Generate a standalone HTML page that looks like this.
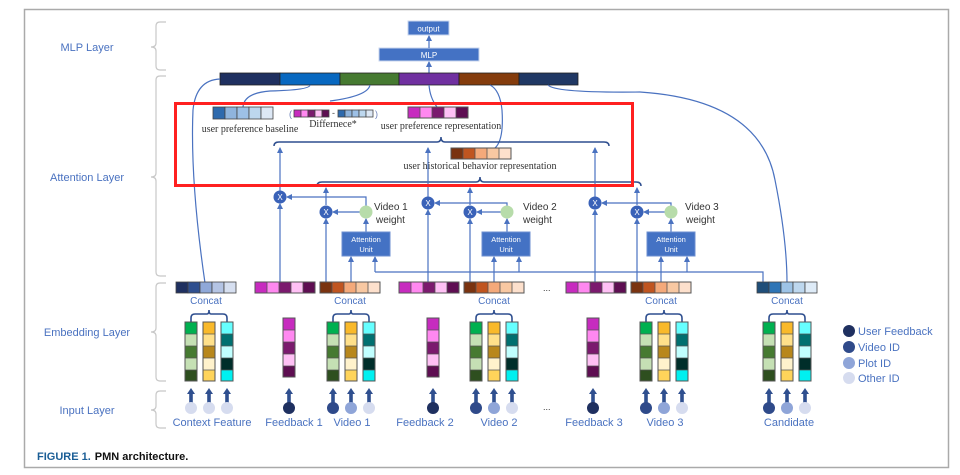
<!DOCTYPE html>
<html><head><meta charset="utf-8"><style>
html,body{margin:0;padding:0;background:#fff;}
svg{display:block;}
.lab{font-family:"Liberation Sans",sans-serif;fill:#4a72c0;}
.ser{font-family:"Liberation Serif",serif;fill:#333;font-size:10px;}
.ln{stroke:#4a72c0;stroke-width:1.2;fill:none;}
.xt{font-family:"Liberation Sans",sans-serif;font-size:8px;fill:#fff;}
</style></head><body>
<svg width="960" height="475" viewBox="0 0 960 475" xmlns="http://www.w3.org/2000/svg">
<defs>
<marker id="a" markerWidth="6" markerHeight="6" refX="5" refY="3" orient="auto" markerUnits="userSpaceOnUse"><path d="M0,0 L6,3 L0,6 z" fill="#4a72c0"/></marker>
<g id="grn"><rect x="0" y="0" width="12" height="12" fill="#00b050"/><rect x="0" y="12" width="12" height="12" fill="#c5e0b4"/><rect x="0" y="24" width="12" height="12" fill="#467a31"/><rect x="0" y="36" width="12" height="12" fill="#c5e0b4"/><rect x="0" y="48" width="12" height="11" fill="#2e4f1f"/><rect x="0" y="0" width="12" height="59" fill="none" stroke="#555" stroke-width="1"/><path d="M0,12H12M0,24H12M0,36H12M0,48H12" stroke="#555" stroke-width=".8"/></g>
<g id="org"><rect x="0" y="0" width="12" height="12" fill="#f9b92a"/><rect x="0" y="12" width="12" height="12" fill="#ffe08a"/><rect x="0" y="24" width="12" height="12" fill="#b8871c"/><rect x="0" y="36" width="12" height="12" fill="#fff2cc"/><rect x="0" y="48" width="12" height="11" fill="#ffd45a"/><rect x="0" y="0" width="12" height="59" fill="none" stroke="#555" stroke-width="1"/><path d="M0,12H12M0,24H12M0,36H12M0,48H12" stroke="#555" stroke-width=".8"/></g>
<g id="cyn"><rect x="0" y="0" width="12" height="12" fill="#66ffff"/><rect x="0" y="12" width="12" height="12" fill="#007070"/><rect x="0" y="24" width="12" height="12" fill="#c0ffff"/><rect x="0" y="36" width="12" height="12" fill="#002e2a"/><rect x="0" y="48" width="12" height="11" fill="#00f0f0"/><rect x="0" y="0" width="12" height="59" fill="none" stroke="#555" stroke-width="1"/><path d="M0,12H12M0,24H12M0,36H12M0,48H12" stroke="#555" stroke-width=".8"/></g>
<g id="mag"><rect x="0" y="0" width="12" height="12" fill="#c72bbf"/><rect x="0" y="12" width="12" height="12" fill="#ff88f0"/><rect x="0" y="24" width="12" height="12" fill="#7b1a6e"/><rect x="0" y="36" width="12" height="12" fill="#ffc0f5"/><rect x="0" y="48" width="12" height="11" fill="#5e0e52"/><rect x="0" y="0" width="12" height="59" fill="none" stroke="#555" stroke-width="1"/><path d="M0,12H12M0,24H12M0,36H12M0,48H12" stroke="#555" stroke-width=".8"/></g>
<g id="hmag"><rect x="0" y="0" width="12" height="11" fill="#c72bbf"/><rect x="12" y="0" width="12" height="11" fill="#ff88f0"/><rect x="24" y="0" width="12" height="11" fill="#7b1a6e"/><rect x="36" y="0" width="12" height="11" fill="#ffc0f5"/><rect x="48" y="0" width="12" height="11" fill="#5e0e52"/><path d="M12,0V11M24,0V11M36,0V11M48,0V11" stroke="#555" stroke-width=".8"/><rect width="60" height="11" fill="none" stroke="#555"/></g>
<g id="hbr"><rect x="0" y="0" width="12" height="11" fill="#7a3310"/><rect x="12" y="0" width="12" height="11" fill="#c05520"/><rect x="24" y="0" width="12" height="11" fill="#f4a97a"/><rect x="36" y="0" width="12" height="11" fill="#f8c8a2"/><rect x="48" y="0" width="12" height="11" fill="#fde0cc"/><path d="M12,0V11M24,0V11M36,0V11M48,0V11" stroke="#555" stroke-width=".8"/><rect width="60" height="11" fill="none" stroke="#555"/></g>
<g id="tri"><use href="#grn" x="0" y="0"/><use href="#org" x="18" y="0"/><use href="#cyn" x="36" y="0"/></g>
<g id="tarr"><rect x="-1.8" y="5" width="3.6" height="10" fill="#2f4f8f"/><path d="M-4,6 L0,0 L4,6 z" fill="#2f4f8f"/></g>
<g id="sbr"><path d="M6,10 V6 Q6,2 10,2 H22 Q24,2 24,-2 Q24,2 26,2 H38 Q42,2 42,6 V10" fill="none" stroke="#2f4f8f" stroke-width="1.6"/></g>
<g id="au"><rect x="0" y="0" width="48" height="24" fill="#4472c4" stroke="#6d8fd0"/><text x="24" y="10" font-family="Liberation Sans,sans-serif" font-size="7.5" fill="#fff" text-anchor="middle">Attention</text><text x="24" y="20" font-family="Liberation Sans,sans-serif" font-size="7.5" fill="#fff" text-anchor="middle">Unit</text></g>
</defs>

<rect x="24.5" y="9.5" width="924" height="458" fill="#fff" stroke="#aaa" stroke-width="1.5"/>

<text class="lab" x="87" y="51" font-size="11" text-anchor="middle">MLP Layer</text>
<text class="lab" x="87" y="181" font-size="11" text-anchor="middle">Attention Layer</text>
<text class="lab" x="87" y="336" font-size="11" text-anchor="middle">Embedding Layer</text>
<text class="lab" x="87" y="414" font-size="11" text-anchor="middle">Input Layer</text>
<g fill="none" stroke="#c8c8c8" stroke-width="1.2">
<path d="M166,22 H160 Q156,22 156,26 V43 Q156,47 151,47 Q156,47 156,51 V66 Q156,70 160,70 H166"/>
<path d="M166,76 H160 Q156,76 156,80 V173 Q156,177 151,177 Q156,177 156,181 V272 Q156,276 160,276 H166"/>
<path d="M166,283 H160 Q156,283 156,287 V328 Q156,332 151,332 Q156,332 156,336 V377 Q156,381 160,381 H166"/>
<path d="M166,391 H160 Q156,391 156,395 V406 Q156,410 151,410 Q156,410 156,414 V424 Q156,428 160,428 H166"/>
</g>

<rect x="408" y="21" width="41" height="14" fill="#4472c4" stroke="#c9d6ee"/>
<text x="428.5" y="31.5" font-family="Liberation Sans,sans-serif" font-size="8" fill="#fff" text-anchor="middle">output</text>
<rect x="379" y="48" width="100" height="13" fill="#4472c4" stroke="#c9d6ee"/>
<text x="429" y="58" font-family="Liberation Sans,sans-serif" font-size="8" fill="#fff" text-anchor="middle">MLP</text>
<path class="ln" d="M429,48 V36" marker-end="url(#a)"/>
<path class="ln" d="M429,73 V62" marker-end="url(#a)"/>
<g stroke="#222" stroke-width=".8">
<rect x="220" y="73" width="60" height="12" fill="#1f3060"/>
<rect x="280" y="73" width="60" height="12" fill="#0868c0"/>
<rect x="340" y="73" width="59" height="12" fill="#467a31"/>
<rect x="399" y="73" width="60" height="12" fill="#7030a0"/>
<rect x="459" y="73" width="60" height="12" fill="#843c0c"/>
<rect x="519" y="73" width="59" height="12" fill="#203864"/>
</g>
<path class="ln" d="M220,79 Q196,80 193,110 Q190,180 205,283"/>
<path class="ln" d="M310,85 Q310,90 270,91 Q244,93 243,107"/>
<path class="ln" d="M370,85 Q368,96 330,101"/>
<path class="ln" d="M429,85 Q430,98 437,107"/>
<path class="ln" d="M490,85 Q500,90 502,110 Q504,140 495,148"/>
<path class="ln" d="M548,85 Q555,93 640,92 Q760,100 775,180 Q787,240 787,283"/>

<g stroke="#444" stroke-width=".8">
<rect x="213" y="107" width="12" height="12" fill="#2e6aad"/><rect x="225" y="107" width="12" height="12" fill="#8fb4dd"/><rect x="237" y="107" width="12" height="12" fill="#9dc0e6"/><rect x="249" y="107" width="12" height="12" fill="#bdd7ee"/><rect x="261" y="107" width="12" height="12" fill="#dde8f5"/>
<rect x="294" y="110" width="7" height="7" fill="#c72bbf"/><rect x="301" y="110" width="7" height="7" fill="#ff88f0"/><rect x="308" y="110" width="7" height="7" fill="#7b1a6e"/><rect x="315" y="110" width="7" height="7" fill="#ffc0f5"/><rect x="322" y="110" width="7" height="7" fill="#5e0e52"/>
<rect x="338" y="110" width="7" height="7" fill="#2e6aad"/><rect x="345" y="110" width="7" height="7" fill="#8fb4dd"/><rect x="352" y="110" width="7" height="7" fill="#9dc0e6"/><rect x="359" y="110" width="7" height="7" fill="#bdd7ee"/><rect x="366" y="110" width="7" height="7" fill="#dde8f5"/>
</g>
<use href="#hmag" x="408" y="107"/>
<use href="#hbr" x="451" y="148"/>
<text x="289" y="117" font-family="Liberation Sans,sans-serif" font-size="9" fill="#6a7fb8">(</text>
<text x="332" y="116" font-family="Liberation Sans,sans-serif" font-size="9" fill="#444">-</text>
<text x="375" y="117" font-family="Liberation Sans,sans-serif" font-size="9" fill="#6a7fb8">)</text>
<text class="ser" x="250" y="132" text-anchor="middle">user preference baseline</text>
<text class="ser" x="333" y="127" text-anchor="middle">Differnece*</text>
<text class="ser" x="441" y="129" text-anchor="middle">user preference representation</text>
<text class="ser" x="480" y="169" text-anchor="middle">user historical behavior representation</text>
<path d="M274,146 Q274,142 279,142 H437 Q441,142 441,137 Q441,142 445,142 H604 Q609,142 609,146" fill="none" stroke="#2f4f8f" stroke-width="1.5"/>
<path d="M317,186 Q317,182 322,182 H476 Q480,182 480,177 Q480,182 484,182 H636 Q641,182 641,186" fill="none" stroke="#2f4f8f" stroke-width="1.5"/>

<path class="ln" d="M375,272 H763 V283"/>

<path class="ln" d="M280,282 V204" marker-end="url(#a)"/>
<path class="ln" d="M280,191 V148" marker-end="url(#a)"/>
<path class="ln" d="M326,282 V219" marker-end="url(#a)"/>
<path class="ln" d="M326,205 V188" marker-end="url(#a)"/>
<path class="ln" d="M351,282 V257" marker-end="url(#a)"/>
<path class="ln" d="M375,272 V257" marker-end="url(#a)"/>
<path class="ln" d="M366,232 V219" marker-end="url(#a)"/>
<path class="ln" d="M360,212 H333" marker-end="url(#a)"/>
<path class="ln" d="M366,206 V197 H287" marker-end="url(#a)"/>
<circle cx="280" cy="197" r="6.5" fill="#3a62b8"/><text class="xt" x="280" y="200" text-anchor="middle">X</text>
<circle cx="326" cy="212" r="6.5" fill="#3a62b8"/><text class="xt" x="326" y="215" text-anchor="middle">X</text>
<circle cx="366" cy="212" r="6.5" fill="#b7dcaa"/>
<use href="#au" x="342" y="232"/>

<path class="ln" d="M428,282 V210" marker-end="url(#a)"/>
<path class="ln" d="M428,197 V148" marker-end="url(#a)"/>
<path class="ln" d="M470,282 V219" marker-end="url(#a)"/>
<path class="ln" d="M470,205 V188" marker-end="url(#a)"/>
<path class="ln" d="M494,282 V257" marker-end="url(#a)"/>
<path class="ln" d="M519,272 V257" marker-end="url(#a)"/>
<path class="ln" d="M507,232 V219" marker-end="url(#a)"/>
<path class="ln" d="M501,212 H477" marker-end="url(#a)"/>
<path class="ln" d="M507,206 V203 H435" marker-end="url(#a)"/>
<circle cx="428" cy="203" r="6.5" fill="#3a62b8"/><text class="xt" x="428" y="206" text-anchor="middle">X</text>
<circle cx="470" cy="212" r="6.5" fill="#3a62b8"/><text class="xt" x="470" y="215" text-anchor="middle">X</text>
<circle cx="507" cy="212" r="6.5" fill="#b7dcaa"/>
<use href="#au" x="482" y="232"/>

<path class="ln" d="M595,282 V210" marker-end="url(#a)"/>
<path class="ln" d="M595,197 V148" marker-end="url(#a)"/>
<path class="ln" d="M637,282 V219" marker-end="url(#a)"/>
<path class="ln" d="M637,205 V188" marker-end="url(#a)"/>
<path class="ln" d="M661,282 V257" marker-end="url(#a)"/>
<path class="ln" d="M687,272 V257" marker-end="url(#a)"/>
<path class="ln" d="M671,232 V219" marker-end="url(#a)"/>
<path class="ln" d="M665,212 H644" marker-end="url(#a)"/>
<path class="ln" d="M671,206 V203 H602" marker-end="url(#a)"/>
<circle cx="595" cy="203" r="6.5" fill="#3a62b8"/><text class="xt" x="595" y="206" text-anchor="middle">X</text>
<circle cx="637" cy="212" r="6.5" fill="#3a62b8"/><text class="xt" x="637" y="215" text-anchor="middle">X</text>
<circle cx="671" cy="212" r="6.5" fill="#b7dcaa"/>
<use href="#au" x="647" y="232"/>

<text font-family="Liberation Sans,sans-serif" font-size="10" fill="#333"><tspan x="374" y="210">Video 1</tspan><tspan x="376" y="223">weight</tspan><tspan x="523" y="210">Video 2</tspan><tspan x="523" y="223">weight</tspan><tspan x="685" y="210">Video 3</tspan><tspan x="686" y="223">weight</tspan></text>

<g stroke="#444" stroke-width=".8">
<rect x="176" y="282" width="12" height="11" fill="#1f3060"/><rect x="188" y="282" width="12" height="11" fill="#2f4f8f"/><rect x="200" y="282" width="12" height="11" fill="#8fa8d8"/><rect x="212" y="282" width="12" height="11" fill="#b4c4e4"/><rect x="224" y="282" width="12" height="11" fill="#d6dff0"/>
<rect x="757" y="282" width="12" height="11" fill="#1f4e79"/><rect x="769" y="282" width="12" height="11" fill="#2e75b6"/><rect x="781" y="282" width="12" height="11" fill="#9dc3e6"/><rect x="793" y="282" width="12" height="11" fill="#bdd7ee"/><rect x="805" y="282" width="12" height="11" fill="#deebf7"/>
</g>
<use href="#hmag" x="255" y="282"/><use href="#hbr" x="320" y="282"/>
<use href="#hmag" x="399" y="282"/><use href="#hbr" x="464" y="282"/>
<use href="#hmag" x="566" y="282"/><use href="#hbr" x="631" y="282"/>
<text font-family="Liberation Sans,sans-serif" font-size="10" fill="#4a72c0" text-anchor="middle"><tspan x="206" y="304">Concat</tspan><tspan x="350" y="304">Concat</tspan><tspan x="494" y="304">Concat</tspan><tspan x="661" y="304">Concat</tspan><tspan x="787" y="304">Concat</tspan></text>
<text x="543" y="291" font-family="Liberation Sans,sans-serif" font-size="9" fill="#333">...</text>
<text x="543" y="410" font-family="Liberation Sans,sans-serif" font-size="9" fill="#333">...</text>

<use href="#sbr" x="185" y="312"/><use href="#tri" x="185" y="322"/>
<use href="#sbr" x="327" y="312"/><use href="#tri" x="327" y="322"/>
<use href="#sbr" x="470" y="312"/><use href="#tri" x="470" y="322"/>
<use href="#sbr" x="640" y="312"/><use href="#tri" x="640" y="322"/>
<use href="#sbr" x="763" y="312"/><use href="#tri" x="763" y="322"/>
<use href="#mag" x="283" y="318"/><use href="#mag" x="427" y="318"/><use href="#mag" x="587" y="318"/>

<g id="in3"><use href="#tarr" x="191" y="388"/><use href="#tarr" x="209" y="388"/><use href="#tarr" x="227" y="388"/></g>
<use href="#in3" x="142"/><use href="#in3" x="285"/><use href="#in3" x="455"/><use href="#in3" x="578"/>
<use href="#tarr" x="289" y="388"/><use href="#tarr" x="433" y="388"/><use href="#tarr" x="593" y="388"/>
<g>
<circle cx="191" cy="408" r="6" fill="#d6dcef"/><circle cx="209" cy="408" r="6" fill="#d6dcef"/><circle cx="227" cy="408" r="6" fill="#d6dcef"/>
<circle cx="289" cy="408" r="6" fill="#1f3060"/><circle cx="433" cy="408" r="6" fill="#1f3060"/><circle cx="593" cy="408" r="6" fill="#1f3060"/>
<circle cx="333" cy="408" r="6" fill="#2f4a8a"/><circle cx="351" cy="408" r="6" fill="#8fa5d8"/><circle cx="369" cy="408" r="6" fill="#d6dcef"/>
<circle cx="476" cy="408" r="6" fill="#2f4a8a"/><circle cx="494" cy="408" r="6" fill="#8fa5d8"/><circle cx="512" cy="408" r="6" fill="#d6dcef"/>
<circle cx="646" cy="408" r="6" fill="#2f4a8a"/><circle cx="664" cy="408" r="6" fill="#8fa5d8"/><circle cx="682" cy="408" r="6" fill="#d6dcef"/>
<circle cx="769" cy="408" r="6" fill="#2f4a8a"/><circle cx="787" cy="408" r="6" fill="#8fa5d8"/><circle cx="805" cy="408" r="6" fill="#d6dcef"/>
</g>
<text font-family="Liberation Sans,sans-serif" font-size="11" fill="#4a72c0" text-anchor="middle"><tspan x="212" y="426">Context Feature</tspan><tspan x="294" y="426">Feedback 1</tspan><tspan x="352" y="426">Video 1</tspan><tspan x="425" y="426">Feedback 2</tspan><tspan x="499" y="426">Video 2</tspan><tspan x="594" y="426">Feedback 3</tspan><tspan x="665" y="426">Video 3</tspan><tspan x="789" y="426">Candidate</tspan></text>

<circle cx="849" cy="331" r="6" fill="#1f3060"/><circle cx="849" cy="347" r="6" fill="#2f4a8a"/><circle cx="849" cy="363" r="6" fill="#8fa5d8"/><circle cx="849" cy="378" r="6" fill="#d6dcef"/>
<text font-family="Liberation Sans,sans-serif" font-size="11" fill="#4a72c0"><tspan x="858" y="335">User Feedback</tspan><tspan x="858" y="351">Video ID</tspan><tspan x="858" y="367">Plot ID</tspan><tspan x="858" y="382">Other ID</tspan></text>

<text x="37" y="460" font-family="Liberation Sans,sans-serif" font-size="11" font-weight="bold"><tspan fill="#1b5e96">FIGURE 1.</tspan><tspan fill="#111" dx="4">PMN architecture.</tspan></text>

<rect x="175.5" y="103.5" width="457" height="82" fill="none" stroke="#ff2020" stroke-width="3"/>
</svg>
</body></html>
